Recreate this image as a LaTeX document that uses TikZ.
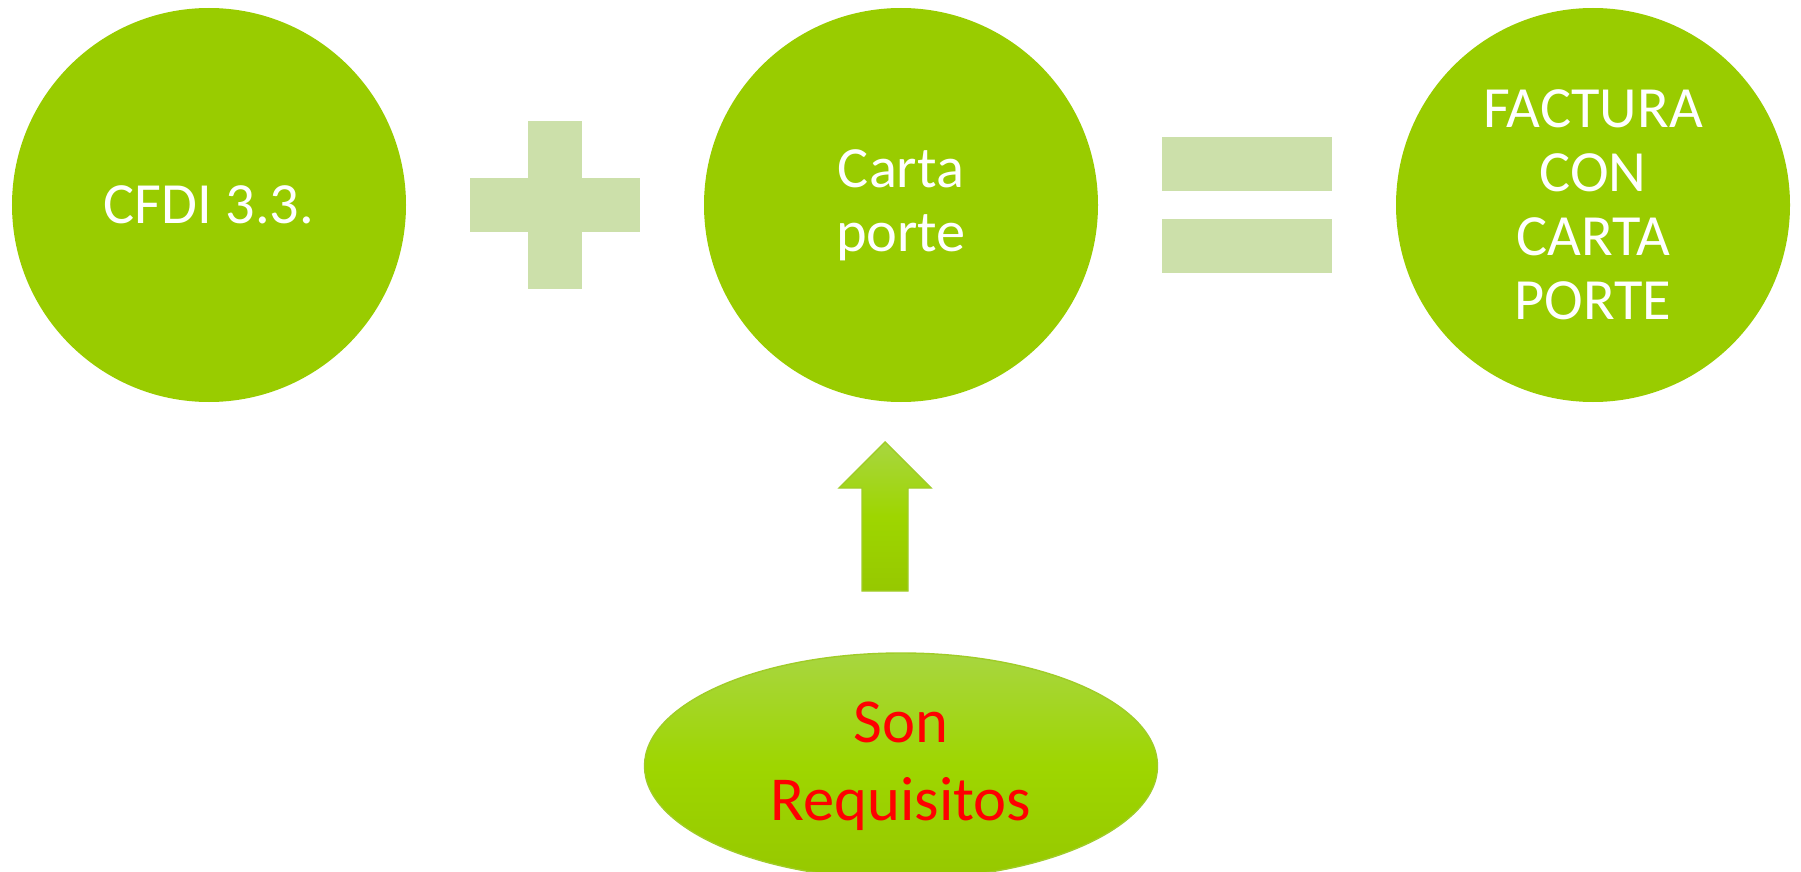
\documentclass[tikz,border=0pt]{standalone}
\usepackage{fontspec}
\setmainfont{Carlito}
\usepackage{tikz}
\usetikzlibrary{shapes.geometric}
\definecolor{verde}{RGB}{153,204,0}
\definecolor{verdeclaro}{RGB}{204,224,170}
\definecolor{verdearriba}{RGB}{168,214,64}
\definecolor{verdemedio}{RGB}{158,214,0}
\definecolor{verdeabajo}{RGB}{150,200,0}
\definecolor{verdeborde}{RGB}{160,204,40}
\tikzset{
	bolita/.style={circle, fill=verde, minimum size=3.94cm, inner sep=0pt, text=white, align=center, font=\fontsize{16.6pt}{18.2pt}\selectfont},
	signo/.style={fill=verdeclaro, draw=none},
	degradado/.style={top color=verdearriba, bottom color=verdeabajo, middle color=verdemedio, draw=verdeborde, line width=0.4pt}
}

\begin{document}
\begin{tikzpicture}
			%%%%% START %%%%%
			
			\useasboundingbox[fill=white] (0, 0) rectangle (18.01, 8.71);
			
			\node[bolita] (cfdi) at (2.09, 6.66) {CFDI 3.3.};
			\node[bolita] (carta) at (9.01, 6.66) {Carta\\porte};
			\node[bolita] (factura) at (15.93, 6.66) {FACTURA\\CON\\CARTA\\PORTE};
			
			\fill[signo] (5.28, 7.50) rectangle (5.82, 5.82);
			\fill[signo] (4.70, 6.93) rectangle (6.40, 6.39);
			
			\fill[signo] (11.62, 7.34) rectangle (13.32, 6.80);
			\fill[signo] (11.62, 6.52) rectangle (13.32, 5.98);
			
			\coordinate (punta) at (8.85, 4.29);
			\draw[degradado] (punta) -- (9.31, 3.83) -- (9.08, 3.83) -- (9.08, 2.80) -- (8.62, 2.80) -- (8.62, 3.83) -- (8.39, 3.83) -- cycle;
			
			\node[ellipse, degradado, minimum width=5.13cm, minimum height=2.26cm, inner sep=0pt, text=red, align=center, font=\fontsize{17.8pt}{22.1pt}\selectfont] (requisitos) at (9.01, 1.05) {Son\\Requisitos};
			
			%%%%% END %%%%%
		\end{tikzpicture}
\end{document}
